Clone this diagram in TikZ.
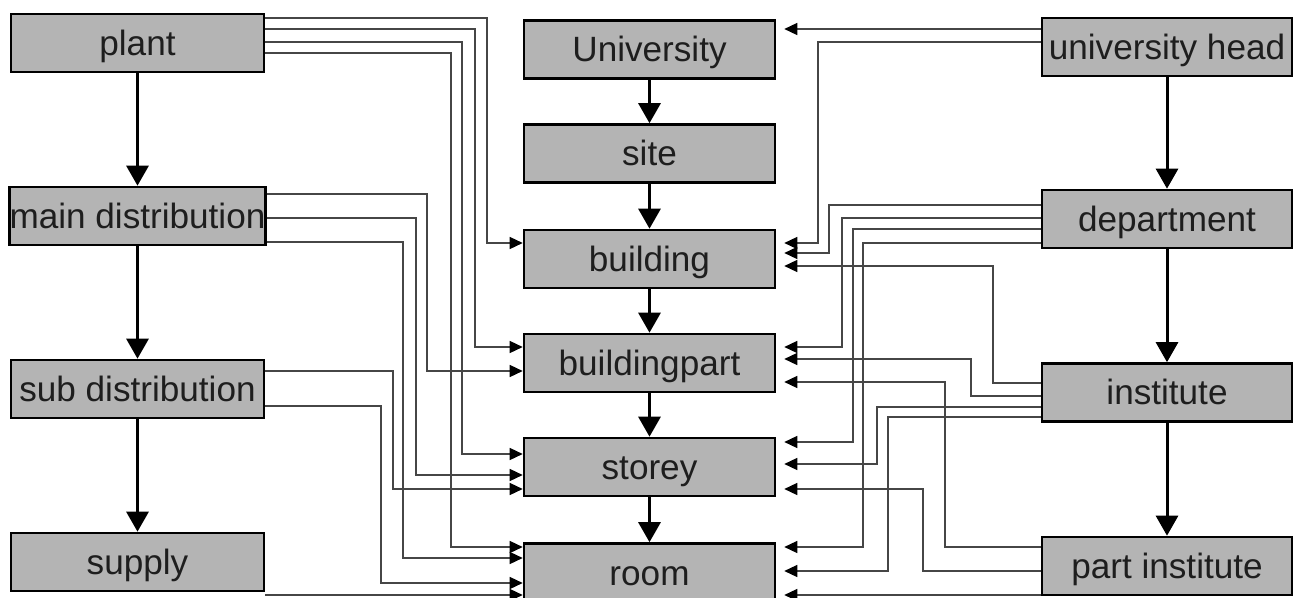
\documentclass[tikz,border=0pt]{standalone}
\usepackage{fontspec}
\setmainfont{Liberation Sans}
\usetikzlibrary{arrows.meta}
\definecolor{boxgray}{RGB}{180,180,180}
\definecolor{txt}{RGB}{30,30,30}
\definecolor{conncol}{RGB}{70,70,70}
\tikzset{
  box/.style={draw=black, line width=1.5pt, fill=boxgray, inner sep=0pt,
    minimum height=1.16cm, text=txt, text height=0.5cm, text depth=0pt,
    font=\fontsize{20}{24}\selectfont},
  lbox/.style={box, minimum width=5.06cm},
  cbox/.style={box, minimum width=5.02cm},
  rbox/.style={box, minimum width=5.0cm},
  hier/.style={line width=1.7pt, black, -{Triangle[length=0.4cm,width=0.44cm]}},
  conn/.style={line width=0.8pt, conncol, -{Triangle[length=0.26cm,width=0.24cm,color=black]}},
  connr/.style={conn, shorten >=0.16cm}
}
\begin{document}
\begin{tikzpicture}[x=0.02cm,y=-0.02cm]
\useasboundingbox[fill=white] (0,0) rectangle (1295,598);
% left column
\node[lbox] (plant) at (137.5,43) {plant};
\node[lbox] (main) at (137.5,216) {main distribution};
\node[lbox] (sub) at (137.5,389) {sub distribution};
\node[lbox] (supply) at (137.5,562) {supply};
% centre column
\node[cbox] (uni) at (649.5,49.5) {University};
\node[cbox] (site) at (649.5,153.5) {site};
\node[cbox] (building) at (649.5,259) {building};
\node[cbox] (bpart) at (649.5,363) {buildingpart};
\node[cbox] (storey) at (649.5,467) {storey};
\node[cbox] (room) at (649.5,572.5) {room};
% right column
\node[rbox] (head) at (1167,47) {university head};
\node[rbox] (dept) at (1167,219) {department};
\node[rbox] (inst) at (1167,392.5) {institute};
\node[rbox] (pinst) at (1167,566) {part institute};
% hierarchy arrows
\draw[hier] (plant) -- (main);
\draw[hier] (main) -- (sub);
\draw[hier] (sub) -- (supply);
\draw[hier] (uni) -- (site);
\draw[hier] (site) -- (building);
\draw[hier] (building) -- (bpart);
\draw[hier] (bpart) -- (storey);
\draw[hier] (storey) -- (room);
\draw[hier] (head) -- (dept);
\draw[hier] (dept) -- (inst);
\draw[hier] (inst) -- (pinst);
% left connectors
\draw[conn] (plant.east |- 0,18) -| (487,243) -- (building.west |- 0,243);
\draw[conn] (plant.east |- 0,29) -| (475,347) -- (bpart.west |- 0,347);
\draw[conn] (plant.east |- 0,42) -| (462,454) -- (storey.west |- 0,454);
\draw[conn] (plant.east |- 0,53) -| (451,547) -- (room.west |- 0,547);
\draw[conn] (main.east |- 0,194) -| (427,371) -- (bpart.west |- 0,371);
\draw[conn] (main.east |- 0,218) -| (416,475) -- (storey.west |- 0,475);
\draw[conn] (main.east |- 0,242) -| (403,558) -- (room.west |- 0,558);
\draw[conn] (sub.east |- 0,371) -| (393,489) -- (storey.west |- 0,489);
\draw[conn] (sub.east |- 0,406) -| (381,583) -- (room.west |- 0,583);
\draw[conn] (supply.east |- 0,595) -- (room.west |- 0,595);
% right connectors
\draw[connr] (head.west |- 0,29) -- (uni.east |- 0,29);
\draw[connr] (head.west |- 0,42) -| (818,243) -- (building.east |- 0,243);
\draw[connr] (dept.west |- 0,205) -| (829,253) -- (building.east |- 0,253);
\draw[connr] (dept.west |- 0,218) -| (842,347) -- (bpart.east |- 0,347);
\draw[connr] (dept.west |- 0,229) -| (853,442) -- (storey.east |- 0,442);
\draw[connr] (dept.west |- 0,243) -| (863,547) -- (room.east |- 0,547);
\draw[connr] (inst.west |- 0,383) -| (993,266) -- (building.east |- 0,266);
\draw[connr] (inst.west |- 0,396) -| (971,359) -- (bpart.east |- 0,359);
\draw[connr] (inst.west |- 0,407) -| (877,464) -- (storey.east |- 0,464);
\draw[connr] (inst.west |- 0,417) -| (888,571) -- (room.east |- 0,571);
\draw[connr] (pinst.west |- 0,547) -| (945,382) -- (bpart.east |- 0,382);
\draw[connr] (pinst.west |- 0,571) -| (923,489) -- (storey.east |- 0,489);
\draw[connr] (pinst.west |- 0,595) -- (room.east |- 0,595);
\end{tikzpicture}
\end{document}
